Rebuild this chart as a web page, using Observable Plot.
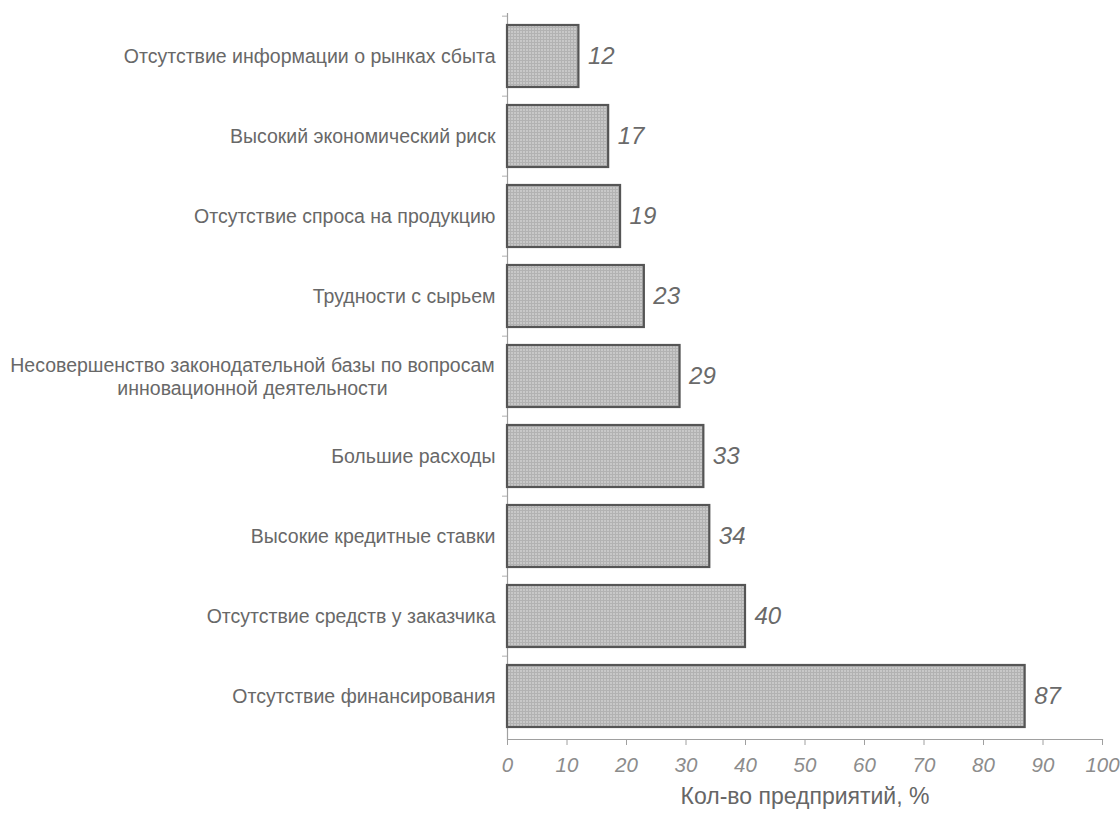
<!DOCTYPE html>
<html>
<head>
<meta charset="utf-8">
<script src="https://cdn.jsdelivr.net/npm/d3@7"></script>
<script src="https://cdn.jsdelivr.net/npm/@observablehq/plot@0.6"></script>
<style>
  html, body { margin: 0; padding: 0; background: #ffffff; }
  #chart { width: 1120px; height: 824px; }
  svg { font-family: "Liberation Sans", Arial, sans-serif; }
</style>
</head>
<body>
<div id="chart"></div>
<script>
// Categories, top to bottom as in the reference
const categories = [
  "Отсутствие информации о рынках сбыта",
  "Высокий экономический риск",
  "Отсутствие спроса на продукцию",
  "Трудности с сырьем",
  "Несовершенство законодательной базы по вопросам\nинновационной деятельности",
  "Большие расходы",
  "Высокие кредитные ставки",
  "Отсутствие средств у заказчика",
  "Отсутствие финансирования"
];
// Share of enterprises, %
const values = [12, 17, 19, 23, 29, 33, 34, 40, 87];
// X axis ticks
const xTicks = [0, 10, 20, 30, 40, 50, 60, 70, 80, 90, 100];
const xTitle = "Кол-во предприятий, %";
const multiLine = categories[4];

const data = categories.map((c, i) => ({category: c, value: values[i]}));

const W = 1120, H = 824, mTop = 13, mBottom = 85;
const step = (H - mTop - mBottom) / categories.length;

const chart = Plot.plot({
  width: W,
  height: H,
  marginLeft: 507,
  marginRight: 18,
  marginTop: mTop,
  marginBottom: mBottom,
  style: {fontFamily: "'Liberation Sans', Arial, sans-serif", background: "#ffffff"},
  x: {type: "linear", domain: [0, 100]},
  y: {domain: categories, paddingInner: 0.23, paddingOuter: 0.11},
  marks: [
    // axis lines
    Plot.ruleX([0], {stroke: "#a0a0a0", strokeWidth: 1.2}),
    Plot.frame({anchor: "bottom", stroke: "#a0a0a0", strokeWidth: 1.2}),
    // y band-boundary ticks
    Plot.ruleY(categories, {y: d => d, x1: 0, x2: 0, insetLeft: -5, dy: -step / 2, stroke: "#b0b0b0"}),
    Plot.barX(data, {
      y: "category", x: "value",
      fill: "url(#barTexture)", stroke: "#555", strokeWidth: 2.2
    }),
    Plot.text(data, {
      y: "category", x: "value", text: d => String(d.value),
      textAnchor: "start", dx: 9, fontSize: 24, fontStyle: "italic", fill: "#6a6a6a"
    }),
    Plot.axisX({
      ticks: xTicks, tickSize: 6, tickPadding: 12, stroke: "#a0a0a0",
      fontSize: 20.5, fontStyle: "italic", fill: "#8c8c8c", label: null, letterSpacing: 0.3
    }),
    Plot.axisY({
      tickSize: 0, tickPadding: 12, fontSize: 19.5, fill: "#686868", label: null,
      tickFormat: d => d === multiLine ? "" : d
    }),
    // two-line label, centred lines as in the reference
    Plot.text([multiLine], {
      y: d => d, x: 0, text: d => d, textAnchor: "middle", dx: -255,
      fontSize: 19.5, fill: "#686868", lineHeight: 1.15
    }),
    Plot.text([xTitle], {
      frameAnchor: "bottom", dy: 64, fontSize: 23, fill: "#666", letterSpacing: 0.4
    })
  ]
});

// texture pattern for bars
const svg = d3.select(chart);
const defs = svg.insert("defs", ":first-child");
const pat = defs.append("pattern")
  .attr("id", "barTexture").attr("patternUnits", "userSpaceOnUse")
  .attr("width", 3).attr("height", 3);
pat.append("rect").attr("width", 3).attr("height", 3).attr("fill", "#c8c8c8");
pat.append("path").attr("d", "M0 0.5H3M0.5 0V3").attr("stroke", "#b2b2b2").attr("stroke-width", 1);

document.getElementById("chart").appendChild(chart);
</script>
</body>
</html>
